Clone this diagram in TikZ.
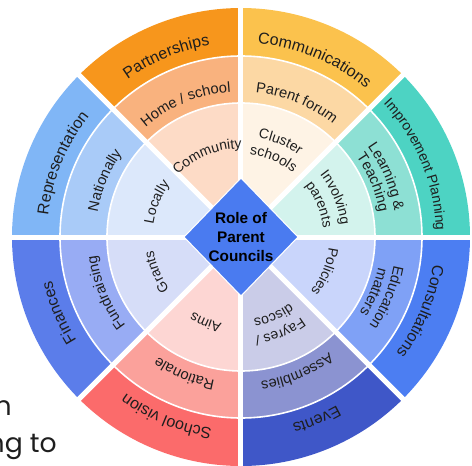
\documentclass[tikz,border=0pt]{standalone}
\usepackage{fontspec}
\setmainfont{Liberation Sans}
\newfontfamily\gothic{Poppins}
\usetikzlibrary{decorations.text}
\definecolor{txt}{HTML}{1E1E1E}
\definecolor{oA}{HTML}{F7961C}\definecolor{oB}{HTML}{F9B27E}\definecolor{oC}{HTML}{FDDBC6}
\definecolor{yA}{HTML}{FBC24D}\definecolor{yB}{HTML}{FCD8A4}\definecolor{yC}{HTML}{FEF3E5}
\definecolor{tA}{HTML}{4DD3C3}\definecolor{tB}{HTML}{8DE0D4}\definecolor{tC}{HTML}{D3F3ED}
\definecolor{bA}{HTML}{4C7EF2}\definecolor{bB}{HTML}{7FA1F6}\definecolor{bC}{HTML}{C9D5FB}
\definecolor{iA}{HTML}{3F57C8}\definecolor{iB}{HTML}{8B93D1}\definecolor{iC}{HTML}{CACCE8}
\definecolor{rA}{HTML}{FB6B6B}\definecolor{rB}{HTML}{FBA19B}\definecolor{rC}{HTML}{FDD6D3}
\definecolor{fA}{HTML}{5B7DEA}\definecolor{fB}{HTML}{98ACF4}\definecolor{fC}{HTML}{D6DDF8}
\definecolor{pA}{HTML}{80B6F6}\definecolor{pB}{HTML}{A9CBF8}\definecolor{pC}{HTML}{DCE8FB}
\definecolor{diam}{HTML}{4A7BF0}
\newcommand\fouter{\fontsize{12}{14}\selectfont}
\newcommand\fsmallouter{\fontsize{10.5}{12}\selectfont}
\newcommand\fmid{\fontsize{11}{13}\selectfont}
\newcommand\finner{\fontsize{10.5}{12}\selectfont}
\newcommand\wedgeseg[4]{%
  \fill[#4] (#1:#2) arc[start angle=#1, end angle=#1+45, radius=#2]
    -- (#1+45:#3) arc[start angle=#1+45, end angle=#1, radius=#3] -- cycle;}
\newcommand\sect[4]{\wedgeseg{#1}{2}{134}{#4}\wedgeseg{#1}{134}{181}{#3}\wedgeseg{#1}{181}{229}{#2}}
\newcommand\arclab[3]{%
  \path[decorate,decoration={text along path,text align=center,text color=txt,text={#3}}]
    (#1+40:#2) arc[start angle=#1+40, end angle=#1-40, radius=#2];}
\tikzset{
  sepline/.style={white, line width=3.75pt},
  ringline/.style={white, line width=1.2pt},
  titletext/.style={font=\bfseries\fontsize{11.5}{14.6}\selectfont, align=center, text=black, inner sep=0pt},
  bgtext/.style={font=\gothic\fontsize{20}{24}\selectfont, text=txt, inner sep=0pt, anchor=base east}
}
\begin{document}
\begin{tikzpicture}[x=0.75pt,y=0.75pt]
\path[use as bounding box] (-241,-228) rectangle (231,237);
% sectors
\sect{90}{oA}{oB}{oC}
\sect{45}{yA}{yB}{yC}
\sect{0}{tA}{tB}{tC}
\sect{-45}{bA}{bB}{bC}
\sect{-90}{iA}{iB}{iC}
\sect{-135}{rA}{rB}{rC}
\sect{180}{fA}{fB}{fC}
\sect{135}{pA}{pB}{pC}
% ring lines and separators
\draw[ringline] (0,0) circle[radius=134];
\draw[ringline] (0,0) circle[radius=181];
\foreach \a in {0,45,...,315} \draw[sepline] (0,0) -- (\a:235);
% centre diamond
\fill[diam, draw=white, line width=0.8pt] (57,0) -- (0,59) -- (-57,0) -- (0,-59) -- cycle;
\node[titletext] (title) at (0,0) {Role of\\Parent\\Councils};
% outer labels
\arclab{112.5}{194}{|\fouter|Partnerships}
\arclab{67.5}{194}{|\fouter|Communications}
\arclab{22.5}{195}{|\fsmallouter|Improvement Planning}
\arclab{-22.5}{194}{|\fouter|Consultations}
\arclab{-67.5}{194}{|\fouter|Events}
\arclab{-112.5}{194}{|\fouter|School vision}
\arclab{-157.5}{194}{|\fouter|Finances}
\arclab{157.5}{194}{|\fouter|Representation}
% middle labels
\arclab{112.5}{145.5}{|\fmid|Home / school}
\arclab{67.5}{145.5}{|\fmid|Parent forum}
\arclab{22.5}{155.5}{|\fmid|Learning {\&}}
\arclab{22.5}{140.5}{|\fmid|Teaching}
\arclab{-22.5}{155.5}{|\fmid|Education}
\arclab{-22.5}{140.5}{|\fmid|matters}
\arclab{-67.5}{145.5}{|\fmid|Assemblies}
\arclab{-112.5}{145.5}{|\fmid|Rationale}
\arclab{-157.5}{145.5}{|\fmid|Fundraising}
\arclab{157.5}{145.5}{|\fmid|Nationally}
% inner labels
\arclab{112.5}{88.5}{|\finner|Community}
\arclab{67.5}{100.5}{|\finner|Cluster}
\arclab{67.5}{82.5}{|\finner|schools}
\arclab{22.5}{100.5}{|\finner|Involving}
\arclab{22.5}{82.5}{|\finner|parents}
\arclab{-22.5}{88.5}{|\finner|Policies}
\arclab{-67.5}{100.5}{|\finner|Fayres /}
\arclab{-67.5}{82.5}{|\finner|discos}
\arclab{-112.5}{88.5}{|\finner|Aims}
\arclab{-157.5}{88.5}{|\finner|Grants}
\arclab{157.5}{88.5}{|\finner|Locally}
% partly hidden background text
\node[bgtext] (bgA) at (-229,-178) {n};
\node[bgtext] (bgB) at (-184,-215) {ng to};
\end{tikzpicture}
\end{document}
